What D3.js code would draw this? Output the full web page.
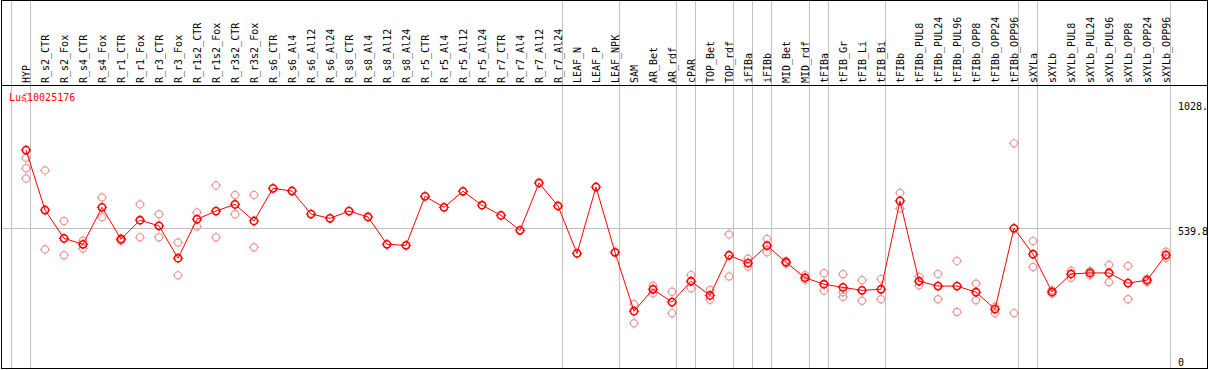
<!DOCTYPE html>
<meta charset="utf-8">
<style>
body { margin: 0; background: #fff; }
text { font-family: "DejaVu Sans Mono", monospace; font-size: 10px; }
.grid line { stroke: #c0c0c0; stroke-width: 1; shape-rendering: crispEdges; }
.frame { fill: none; stroke: #000; stroke-width: 1; shape-rendering: crispEdges; }
</style>
<svg width="1209" height="370"></svg>
<script src="https://d3js.org/d3.v7.min.js"></script>
<script>

// sample names, left to right
var categories = ["HYP","R_s2_CTR","R_s2_Fox","R_s4_CTR","R_s4_Fox","R_r1_CTR","R_r1_Fox",
  "R_r3_CTR","R_r3_Fox","R_r1s2_CTR","R_r1s2_Fox","R_r3s2_CTR","R_r3s2_Fox",
  "R_s6_CTR","R_s6_Al4","R_s6_Al12","R_s6_Al24","R_s8_CTR","R_s8_Al4","R_s8_Al12","R_s8_Al24",
  "R_r5_CTR","R_r5_Al4","R_r5_Al12","R_r5_Al24","R_r7_CTR","R_r7_Al4","R_r7_Al12","R_r7_Al24",
  "LEAF_N","LEAF_P","LEAF_NPK","SAM","AR_Bet","AR_rdf","cPAR","TOP_Bet","TOP_rdf",
  "iFIBa","iFIBb","MID_Bet","MID_rdf","tFIBa","tFIB_Gr","tFIB_Li","tFIB_Bi","tFIBb",
  "tFIBb_PUL8","tFIBb_PUL24","tFIBb_PUL96","tFIBb_OPP8","tFIBb_OPP24","tFIBb_OPP96",
  "sXYLa","sXYLb","sXYLb_PUL8","sXYLb_PUL24","sXYLb_PUL96","sXYLb_OPP8","sXYLb_OPP24","sXYLb_OPP96"];

// mean expression per sample
var means = [832,608,502,480,618,499,570,549,428,574,604,629,567,
  689,679,593,577,604,582,480,476,659,618,678,626,588,532,709,623,
  446,694,450,230,312,264,342,289,439,410,475,413,355,331,319,308,312,642,
  342,324,324,301,238,539.8,443,302,369,373,373,335,346,440];

// replicate values per sample (same order)
var replicates = [[1028.3,803,764,726],[756,461],[567,439],[493,464],[655,581],[502,493],[629,506],
  [592,506],[487,364],[599,546],[700,506],[664,592],[664,469],
  [],[],[],[],[],[],[],[],[],[],[],[],[],[],[],[],
  [],[],[],[256,185],[325,297],[303,222],[365,316],[309,273],[517,360],
  [426,396],[500,450],[418,408],[365,347],[372,307],[368,301,284],[346,269],[350,275],[672,614],
  [359,327],[369,275],[418,227],[333,271],[247,222],[857,223],
  [492,395],[308,296],[381,355],[380,364],[403,338],[399,275],[351,339],[452,430]];

// group dividers are drawn after these samples
var dividersAfter = ["HYP","R_r7_Al24","LEAF_NPK","AR_rdf","cPAR","TOP_rdf","iFIBa","iFIBb",
  "MID_rdf","tFIBa","tFIB_Bi","tFIBb_OPP96","sXYLa","sXYLb_OPP96"];

var geneName = "Lus10025176";
var yTicks = [{v: 1028.3, label: "1028."}, {v: 539.8, label: "539.8"}, {v: 0, label: "0"}];

var svg = d3.select("svg"),
    width = +svg.attr("width"),
    height = +svg.attr("height");

var headerY = 85.5, bottomY = 368.5, rightX = 1207.5;

var x = d3.scalePoint().domain(categories).range([26, 1166]);
var step = x.step();
var y = d3.scaleLinear().domain([0, 1028.3]).range([372.8, 97.5]);

//gray grid: dividers + mid value line
var grid = svg.append("g").attr("class", "grid");
var divX = [x(categories[0]) - step + 4.5].concat(dividersAfter.map(function(c){ return x(c) + 4.5; }));
grid.selectAll("line.v")
    .data(divX)
    .enter().append("line")
      .attr("x1", function(d){ return d; })
      .attr("x2", function(d){ return d; })
      .attr("y1", 0)
      .attr("y2", bottomY);

grid.append("line")
    .attr("x1", 1.5)
    .attr("x2", d3.max(divX))
    .attr("y1", Math.round(y(539.8)) + 0.5)
    .attr("y2", Math.round(y(539.8)) + 0.5);

//rotated sample labels
svg.append("g")
  .selectAll("text")
  .data(categories)
  .enter().append("text")
    .attr("transform", function(d){ return "translate(" + x(d) + "," + 83 + ") rotate(-90)"; })
    .attr("dominant-baseline", "central")
    .attr("fill", "#000")
    .text(function(d){ return d; });

//right axis labels
svg.append("g")
  .selectAll("text")
  .data(yTicks)
  .enter().append("text")
    .attr("x", 1178)
    .attr("y", function(d){
      if (d.v == 0) return 366;
      if (d.v > 1000) return y(d.v) + 12;
      return y(d.v) + 7;
    })
    .attr("fill", "#000")
    .text(function(d){ return d.label; });

//gene name
svg.append("text")
    .attr("x", 9)
    .attr("y", 101)
    .attr("fill", "#ff0000")
    .text(geneName);

// marker: small circle with four tick marks
function marker(sel, colour, sw) {
  sel.append("circle")
    .attr("r", 3.6)
    .attr("fill", "none")
    .attr("stroke", colour)
    .attr("stroke-width", sw);
  [[0,-1],[0,1],[-1,0],[1,0]].forEach(function(d){
    sel.append("line")
      .attr("x1", d[0] * 3.5).attr("y1", d[1] * 3.5)
      .attr("x2", d[0] * 5.2).attr("y2", d[1] * 5.2)
      .attr("stroke", colour)
      .attr("stroke-width", 1);
  });
}

//replicate points
var repData = [];
replicates.forEach(function(r, i){
  r.forEach(function(v){ repData.push({c: categories[i], v: v}); });
});
var reps = svg.append("g")
  .selectAll("g")
  .data(repData)
  .enter().append("g")
    .attr("transform", function(d){ return "translate(" + x(d.c) + "," + y(d.v) + ")"; });
marker(reps, "#ef9a9a", 1.2);

//mean line
var meanData = categories.map(function(c, i){ return {c: c, v: means[i]}; });
svg.append("path")
    .datum(meanData)
    .attr("fill", "none")
    .attr("stroke", "#ff0000")
    .attr("stroke-width", 1)
    .attr("d", d3.line()
      .x(function(d){ return x(d.c); })
      .y(function(d){ return y(d.v); }));

var pts = svg.append("g")
  .selectAll("g")
  .data(meanData)
  .enter().append("g")
    .attr("transform", function(d){ return "translate(" + x(d.c) + "," + y(d.v) + ")"; });
marker(pts, "#ff0000", 1.6);

//frame and header rule
svg.append("rect")
    .attr("class", "frame")
    .attr("x", 1.5)
    .attr("y", 0.5)
    .attr("width", rightX - 1.5)
    .attr("height", bottomY - 0.5);
svg.append("line")
    .attr("x1", 1.5).attr("x2", rightX)
    .attr("y1", headerY).attr("y2", headerY)
    .attr("stroke", "#000")
    .attr("shape-rendering", "crispEdges");

</script>
